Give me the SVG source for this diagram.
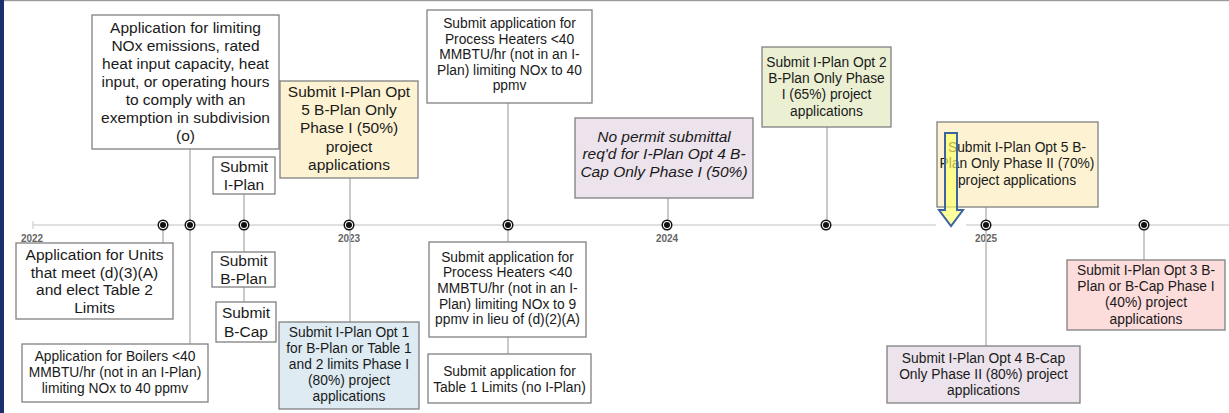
<svg xmlns="http://www.w3.org/2000/svg" width="1229" height="413" viewBox="0 0 1229 413">
<defs>
<style>
.bx{stroke:#808080;stroke-width:1.3}
.w{fill:#ffffff}
.y{fill:#fdf3d2}
.b{fill:#deebf2}
.l{fill:#ece3ec}
.g{fill:#ebf0d2}
.p{fill:#fddcdc}
text{font-family:"Liberation Sans",Arial,sans-serif;fill:#1a1a1a;text-anchor:middle}
.f15{font-size:15.5px}
.f14{font-size:13.8px}
.it{font-style:italic}
.yr{font-size:10px;font-weight:bold;fill:#666}
.cn{stroke:#bdbdbd;stroke-width:1.6;fill:none}
</style>
<g id="dot"><circle r="5.5" fill="#111"/><circle r="4" fill="#fff"/><circle r="3" fill="#111"/></g>
</defs>
<rect x="0" y="0" width="1229" height="413" fill="#ffffff"/>
<rect x="0" y="0" width="4" height="413" fill="#1b2f6e"/>
<rect x="4" y="0" width="1225" height="1.2" fill="#9a9a9a"/>

<g id="axis">
<line x1="33" y1="225" x2="1229" y2="225" stroke="#e0e0e0" stroke-width="2"/>
<line x1="33" y1="221" x2="33" y2="229" stroke="#d0d0d0" stroke-width="1.2"/>
<text class="yr" x="32" y="242">2022</text>
<text class="yr" x="349" y="242">2023</text>
<text class="yr" x="667" y="242">2024</text>
<text class="yr" x="986" y="242">2025</text>
</g>

<g id="connectors">
<line class="cn" x1="163" y1="225" x2="163" y2="243"/>
<line class="cn" x1="190" y1="149" x2="190" y2="344"/>
<line class="cn" x1="244" y1="194" x2="244" y2="302"/>
<line class="cn" x1="350" y1="178" x2="350" y2="322"/>
<line class="cn" x1="508" y1="103" x2="508" y2="354"/>
<line class="cn" x1="668" y1="198" x2="668" y2="225"/>
<line class="cn" x1="827" y1="127" x2="827" y2="225"/>
<line class="cn" x1="986" y1="207" x2="986" y2="346"/>
<line class="cn" x1="1144" y1="225" x2="1144" y2="260"/>
</g>

<g id="dots">
<use href="#dot" x="163" y="225"/>
<use href="#dot" x="190" y="225"/>
<use href="#dot" x="244" y="225"/>
<use href="#dot" x="349" y="225"/>
<use href="#dot" x="508" y="225"/>
<use href="#dot" x="667" y="225"/>
<use href="#dot" x="826" y="225"/>
<use href="#dot" x="986" y="225"/>
<use href="#dot" x="1144" y="225"/>
</g>

<g id="n-exemption">
<rect class="bx w" x="92" y="15" width="187" height="134"/>
<text class="f15"><tspan x="185.5" y="33.3">Application for limiting</tspan><tspan x="185.5" y="51.3">NOx emissions, rated</tspan><tspan x="185.5" y="69.3">heat input capacity, heat</tspan><tspan x="185.5" y="87.3">input, or operating hours</tspan><tspan x="185.5" y="105.3">to comply with an</tspan><tspan x="185.5" y="123.3">exemption in subdivision</tspan><tspan x="185.5" y="141.3">(o)</tspan></text>
</g>

<g id="n-units">
<rect class="bx w" x="16" y="243" width="157" height="76"/>
<text class="f15"><tspan x="94.5" y="260">Application for Units</tspan><tspan x="94.5" y="277.5">that meet (d)(3)(A)</tspan><tspan x="94.5" y="295">and elect Table 2</tspan><tspan x="94.5" y="312.5">Limits</tspan></text>
</g>

<g id="n-boilers">
<rect class="bx w" x="22" y="344" width="186" height="58"/>
<text class="f14"><tspan x="115" y="361">Application for Boilers &lt;40</tspan><tspan x="115" y="377">MMBTU/hr (not in an I-Plan)</tspan><tspan x="115" y="393">limiting NOx to 40 ppmv</tspan></text>
</g>

<g id="n-iplan">
<rect class="bx w" x="213" y="157" width="62" height="37"/>
<text class="f15"><tspan x="244" y="171.7">Submit</tspan><tspan x="244" y="190">I-Plan</tspan></text>
</g>

<g id="n-bplan">
<rect class="bx w" x="212" y="252" width="63" height="35"/>
<text class="f15"><tspan x="243.5" y="265.5">Submit</tspan><tspan x="243.5" y="283.5">B-Plan</tspan></text>
</g>

<g id="n-bcap">
<rect class="bx w" x="216" y="302" width="60" height="40"/>
<text class="f15"><tspan x="246" y="318.3">Submit</tspan><tspan x="246" y="336.7">B-Cap</tspan></text>
</g>

<g id="n-opt5-ph1">
<rect class="bx y" x="280" y="81" width="138" height="97"/>
<text class="f15"><tspan x="349" y="96.7">Submit I-Plan Opt</tspan><tspan x="349" y="115">5 B-Plan Only</tspan><tspan x="349" y="133.3">Phase I (50%)</tspan><tspan x="349" y="151.6">project</tspan><tspan x="349" y="169.9">applications</tspan></text>
</g>

<g id="n-opt1">
<rect class="bx b" x="279" y="322" width="140" height="87"/>
<text class="f14"><tspan x="349" y="336.7">Submit I-Plan Opt 1</tspan><tspan x="349" y="352.7">for B-Plan or Table 1</tspan><tspan x="349" y="368.7">and 2 limits Phase I</tspan><tspan x="349" y="384.7">(80%) project</tspan><tspan x="349" y="400.7">applications</tspan></text>
</g>

<g id="n-heaters40">
<rect class="bx w" x="427" y="10" width="165" height="93"/>
<text class="f14"><tspan x="509.5" y="28.3">Submit application for</tspan><tspan x="509.5" y="43.8">Process Heaters &lt;40</tspan><tspan x="509.5" y="59.3">MMBTU/hr (not in an I-</tspan><tspan x="509.5" y="74.8">Plan) limiting NOx to 40</tspan><tspan x="509.5" y="90.3">ppmv</tspan></text>
</g>

<g id="n-heaters9">
<rect class="bx w" x="429" y="242" width="157" height="95"/>
<text class="f14"><tspan x="507.5" y="261.7">Submit application for</tspan><tspan x="507.5" y="277.3">Process Heaters &lt;40</tspan><tspan x="507.5" y="292.9">MMBTU/hr (not in an I-</tspan><tspan x="507.5" y="308.5">Plan) limiting NOx to 9</tspan><tspan x="507.5" y="324.1">ppmv in lieu of (d)(2)(A)</tspan></text>
</g>

<g id="n-table1">
<rect class="bx w" x="428" y="354" width="163" height="49"/>
<text class="f14"><tspan x="509.5" y="376">Submit application for</tspan><tspan x="509.5" y="391.7">Table 1 Limits (no I-Plan)</tspan></text>
</g>

<g id="n-opt4-ph1">
<rect class="bx l" x="575" y="118" width="178" height="80"/>
<text class="f15 it"><tspan x="664" y="141.7">No permit submittal</tspan><tspan x="664" y="159.2">req'd for I-Plan Opt 4 B-</tspan><tspan x="664" y="176.7">Cap Only Phase I (50%)</tspan></text>
</g>

<g id="n-opt2">
<rect class="bx g" x="762" y="47" width="129" height="80"/>
<text class="f14"><tspan x="826.5" y="66.7">Submit I-Plan Opt 2</tspan><tspan x="826.5" y="83">B-Plan Only Phase</tspan><tspan x="826.5" y="99.3">I (65%) project</tspan><tspan x="826.5" y="115.6">applications</tspan></text>
</g>

<g id="n-opt5-ph2">
<rect class="bx y" x="937" y="122" width="161" height="85"/>
<text class="f14"><tspan x="1017" y="151.7">Submit I-Plan Opt 5 B-</tspan><tspan x="1017" y="168.3">Plan Only Phase II (70%)</tspan><tspan x="1017" y="184.9">project applications</tspan></text>
</g>

<g id="n-opt4-ph2">
<rect class="bx l" x="887" y="346" width="193" height="57"/>
<text class="f14"><tspan x="983.5" y="363.3">Submit I-Plan Opt 4 B-Cap</tspan><tspan x="983.5" y="379.3">Only Phase II (80%) project</tspan><tspan x="983.5" y="395.3">applications</tspan></text>
</g>

<g id="n-opt3">
<rect class="bx p" x="1067" y="260" width="158" height="70"/>
<text class="f14"><tspan x="1146" y="275">Submit I-Plan Opt 3 B-</tspan><tspan x="1146" y="291.2">Plan or B-Cap Phase I</tspan><tspan x="1146" y="307.4">(40%) project</tspan><tspan x="1146" y="323.6">applications</tspan></text>
</g>

<g id="marker-arrow">
<rect x="936" y="208" width="30" height="20" fill="#ffffff"/>
<path d="M945,133 H957 V210 H963 L951,226 L939,210 H945 Z" fill="#ffff66" fill-opacity="0.65" stroke="#3b64a0" stroke-width="2" stroke-linejoin="miter"/>
</g>
</svg>
